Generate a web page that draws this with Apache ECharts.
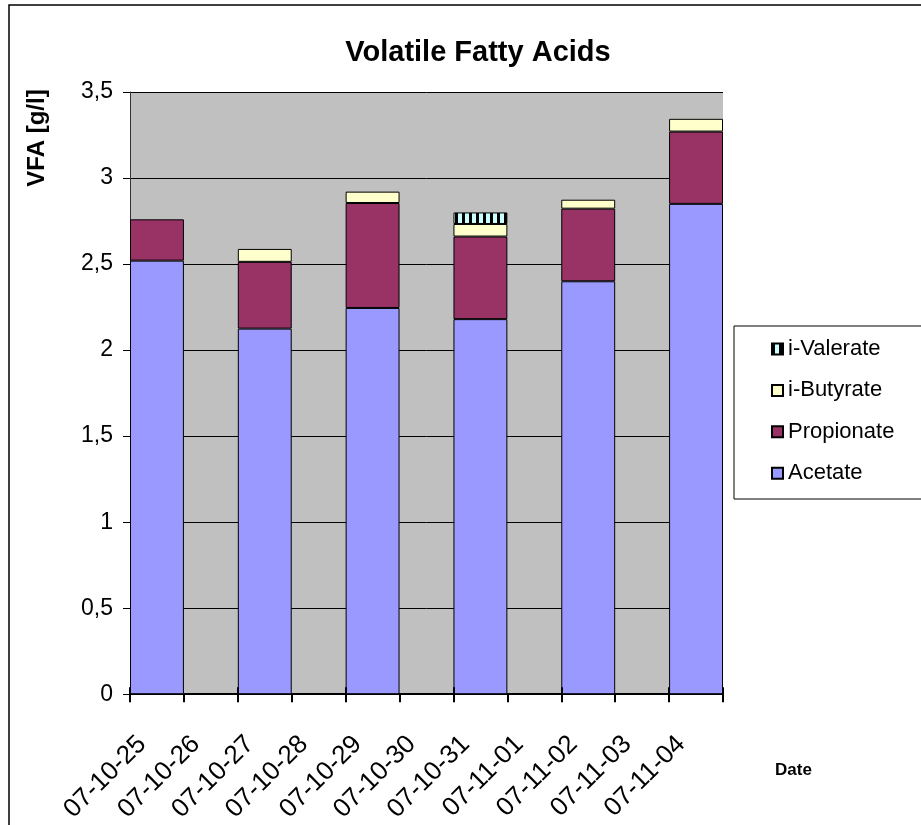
<!DOCTYPE html>
<html>
<head>
<meta charset="utf-8">
<style>
  html, body { margin: 0; padding: 0; background: #ffffff; }
  #chart { width: 921px; height: 825px; }
</style>
<script src="https://cdn.jsdelivr.net/npm/echarts@6/dist/echarts.min.js"></script>
</head>
<body>
<div id="chart"></div>
<script>
// Sampling dates (one category per day)
const dates = ['07-10-25', '07-10-26', '07-10-27', '07-10-28', '07-10-29', '07-10-30',
               '07-10-31', '07-11-01', '07-11-02', '07-11-03', '07-11-04'];

// Concentrations in g/l; null = no sample that day
const acetate    = [2.52, null, 2.125, null, 2.245, null, 2.18, null, 2.40, null, 2.85];
const propionate = [0.24, null, 0.388, null, 0.61,  null, 0.48, null, 0.422, null, 0.42];
const iButyrate  = [null, null, 0.075, null, 0.066, null, 0.073, null, 0.052, null, 0.074];
const iValerate  = [null, null, null,  null, null,  null, 0.067, null, null,  null, null];

const yTicks = { min: 0, max: 3.5, step: 0.5 };

const FONT = '"Liberation Sans", Arial, sans-serif';

// Striped fill used for i-Valerate
function stripePattern() {
  const c = document.createElement('canvas');
  c.width = 7; c.height = 8;
  const g = c.getContext('2d');
  g.fillStyle = '#CCFFFF';
  g.fillRect(0, 0, 7, 8);
  g.fillStyle = '#000000';
  g.fillRect(0, 0, 3, 8);
  return c;
}

const chart = echarts.init(document.getElementById('chart'), null, { renderer: 'canvas' });

function barSeries(name, data, color) {
  return {
    name: name,
    type: 'bar',
    stack: 'vfa',
    barWidth: '100%',
    data: data,
    itemStyle: { color: color, borderColor: '#000000', borderWidth: 1 },
    emphasis: { disabled: true },
    animation: false
  };
}

chart.setOption({
  animation: false,
  backgroundColor: '#ffffff',
  graphic: [
    { type: 'rect', z: -10, shape: { x: 9, y: 5, width: 1000, height: 1000 },
      style: { fill: '#ffffff', stroke: '#000000', lineWidth: 1.5 } },
    { type: 'rect', z: 0, shape: { x: 734, y: 326, width: 300, height: 173 },
      style: { fill: '#ffffff', stroke: '#000000', lineWidth: 1 } },
    { type: 'text', x: 37, y: 138, rotation: Math.PI / 2,
      style: { text: 'VFA [g/l]', font: 'bold 24px ' + FONT, fill: '#000000',
               align: 'center', verticalAlign: 'middle' } },
    { type: 'text', x: 775, y: 770,
      style: { text: 'Date', font: 'bold 17px ' + FONT, fill: '#000000',
               align: 'left', verticalAlign: 'middle' } }
  ],
  title: {
    text: 'Volatile Fatty Acids',
    left: 473,
    top: 33,
    textAlign: 'center',
    textStyle: { fontFamily: FONT, fontWeight: 'bold', fontSize: 29, color: '#000000' }
  },
  legend: {
    orient: 'vertical',
    left: 771,
    top: 338,
    padding: 0,
    itemGap: 19.4,
    itemWidth: 11,
    itemHeight: 11,
    icon: 'rect',
    data: ['i-Valerate', 'i-Butyrate', 'Propionate', 'Acetate'],
    textStyle: { fontFamily: FONT, fontSize: 22, color: '#000000', lineHeight: 22 },
    selectedMode: false,
    z: 5
  },
  grid: {
    left: 130, right: 198, top: 92, bottom: 130,
    show: true, backgroundColor: '#C0C0C0', borderWidth: 0
  },
  xAxis: [
    {
      type: 'category',
      data: dates,
      boundaryGap: true,
      axisLine: { show: true, lineStyle: { color: '#000000', width: 2 } },
      axisTick: { show: true, length: 8, lineStyle: { color: '#000000', width: 2 } },
      axisLabel: {
        rotate: 45, margin: 31, interval: 0,
        padding: [0, 21, 0, 0],
        fontFamily: FONT, fontSize: 26, color: '#000000'
      },
      splitLine: { show: false }
    },
    {
      // inner half of the crossing tick marks
      type: 'category',
      data: dates,
      position: 'bottom',
      boundaryGap: true,
      axisLine: { show: false },
      axisTick: { show: true, inside: true, length: 7, lineStyle: { color: '#000000', width: 2 } },
      axisLabel: { show: false },
      splitLine: { show: false },
      z: 5
    }
  ],
  yAxis: {
    type: 'value',
    min: yTicks.min, max: yTicks.max, interval: yTicks.step,
    axisLine: { show: true, lineStyle: { color: '#333333', width: 1 } },
    axisTick: { show: true, length: 7, lineStyle: { color: '#000000' } },
    axisLabel: {
      margin: 17, fontFamily: FONT, fontSize: 23, color: '#000000',
      formatter: v => String(v).replace('.', ',')
    },
    splitLine: { show: true, lineStyle: { color: '#000000', width: 1 } }
  },
  series: [
    barSeries('Acetate', acetate, '#9999FF'),
    barSeries('Propionate', propionate, '#993366'),
    barSeries('i-Butyrate', iButyrate, '#FFFFCC'),
    barSeries('i-Valerate', iValerate, { image: stripePattern(), repeat: 'repeat' })
  ]
});
</script>
</body>
</html>
